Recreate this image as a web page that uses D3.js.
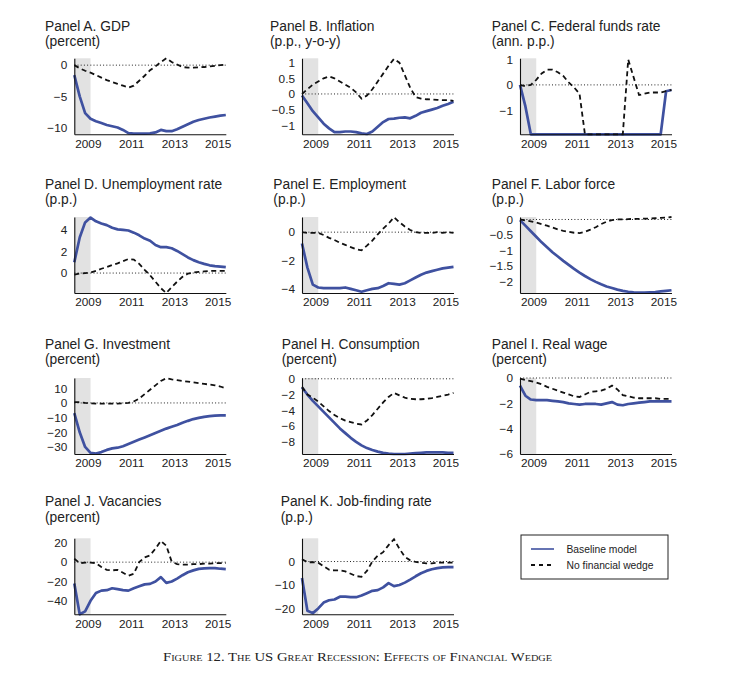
<!DOCTYPE html>
<html><head><meta charset="utf-8">
<script src="https://cdn.jsdelivr.net/npm/d3@7"></script>
<style>body{margin:0;background:#fff}svg{display:block}</style>
</head><body>
<svg id="chart" width="753" height="677"></svg>
<script>
// ---------- data ----------
const quarters = [2008.375,2008.625,2008.875,2009.125,2009.375,2009.625,2009.875,2010.125,2010.375,2010.625,
  2010.875,2011.125,2011.375,2011.625,2011.875,2012.125,2012.375,2012.625,2012.875,2013.125,
  2013.375,2013.625,2013.875,2014.125,2014.375,2014.625,2014.875,2015.125,2015.375];
const xTickYears = [2009, 2011, 2013, 2015];
const recession = [2008.375, 2009.125];
const legendLabels = ["Baseline model", "No financial wedge"];
const caption = "Figure 12. The US Great Recession: Effects of Financial Wedge";

const panelTitles = ["Panel A. GDP","Panel B. Inflation","Panel C. Federal funds rate",
  "Panel D. Unemployment rate","Panel E. Employment","Panel F. Labor force",
  "Panel G. Investment","Panel H. Consumption","Panel I. Real wage",
  "Panel J. Vacancies","Panel K. Job-finding rate"];
const panelUnits = ["(percent)","(p.p., y-o-y)","(ann. p.p.)","(p.p.)","(p.p.)","(p.p.)",
  "(percent)","(percent)","(percent)","(percent)","(p.p.)"];

const yTicksA = [0,-5,-10];
const yTicksB = [1,0.5,0,-0.5,-1];
const yTicksC = [1,0,-1];
const yTicksD = [4,2,0];
const yTicksE = [0,-2,-4];
const yTicksF = [0,-0.5,-1,-1.5,-2];
const yTicksG = [10,0,-10,-20,-30];
const yTicksH = [0,-2,-4,-6,-8];
const yTicksI = [0,-2,-4,-6];
const yTicksJ = [20,0,-20,-40];
const yTicksK = [0,-10,-20];

const yRangeA = [-11.1, 1.1];
const yRangeB = [-1.29, 1.14];
const yRangeC = [-1.95, 1.05];
const yRangeD = [-1.85, 5.2];
const yRangeE = [-4.29, 1.07];
const yRangeF = [-2.38, 0.08];
const yRangeG = [-34.8, 17];
const yRangeH = [-9.55, 0.1];
const yRangeI = [-6, 0];
const yRangeJ = [-54, 24.7];
const yRangeK = [-22.5, 9.9];

const gdpBase = [-1.6,-5.0,-7.7,-8.6,-9.0,-9.3,-9.6,-9.8,-10.0,-10.4,-10.9,-11.0,-11.0,-11.0,-10.95,-10.8,-10.4,-10.6,-10.6,-10.3,-9.9,-9.5,-9.1,-8.8,-8.6,-8.4,-8.25,-8.1,-8.0];
const gdpNoWedge = [0.0,-0.5,-0.9,-1.2,-1.6,-2.0,-2.4,-2.7,-3.0,-3.3,-3.6,-3.3,-2.5,-1.7,-0.8,-0.2,0.5,1.1,0.5,0.1,-0.3,-0.4,-0.4,-0.35,-0.3,-0.2,-0.1,0.0,0.1];
const inflBase = [-0.05,-0.3,-0.55,-0.75,-0.95,-1.1,-1.22,-1.22,-1.2,-1.2,-1.22,-1.26,-1.28,-1.2,-1.05,-0.9,-0.8,-0.79,-0.76,-0.75,-0.78,-0.7,-0.6,-0.55,-0.5,-0.45,-0.38,-0.32,-0.25];
const inflNoWedge = [0.0,0.15,0.3,0.4,0.5,0.56,0.5,0.4,0.3,0.2,0.05,-0.15,-0.05,0.15,0.4,0.65,0.9,1.12,1.0,0.6,0.2,-0.1,-0.15,-0.17,-0.18,-0.19,-0.2,-0.2,-0.22];
const ffrBase = [0.0,-0.85,-1.95,-1.95,-1.95,-1.95,-1.95,-1.95,-1.95,-1.95,-1.95,-1.95,-1.95,-1.95,-1.95,-1.95,-1.95,-1.95,-1.95,-1.95,-1.95,-1.95,-1.95,-1.95,-1.95,-1.95,-1.95,-0.25,-0.2];
const ffrNoWedge = [0.0,-0.05,0.0,0.2,0.45,0.6,0.6,0.5,0.35,0.1,-0.1,-0.35,-1.95,-1.95,-1.95,-1.95,-1.95,-1.95,-1.95,-1.95,1.0,0.3,-0.4,-0.35,-0.3,-0.3,-0.3,-0.25,-0.2];
const unempBase = [1.0,3.3,4.7,5.15,4.8,4.6,4.45,4.2,4.05,4.0,3.95,3.75,3.5,3.2,3.0,2.6,2.4,2.4,2.3,2.05,1.75,1.45,1.2,1.0,0.85,0.72,0.65,0.6,0.55];
const unempNoWedge = [-0.15,-0.05,0.0,0.05,0.2,0.4,0.55,0.75,0.9,1.1,1.3,1.25,0.85,0.3,-0.2,-0.8,-1.4,-1.85,-1.3,-0.8,-0.35,-0.05,0.05,0.1,0.15,0.2,0.2,0.2,0.2];
const emplBase = [-0.8,-2.5,-3.7,-3.9,-3.95,-3.95,-3.95,-3.95,-3.9,-4.0,-4.1,-4.2,-4.1,-4.0,-3.95,-3.8,-3.6,-3.65,-3.7,-3.6,-3.4,-3.2,-3.0,-2.85,-2.75,-2.65,-2.55,-2.5,-2.45];
const emplNoWedge = [0.0,-0.05,-0.05,-0.05,-0.2,-0.4,-0.55,-0.75,-0.9,-1.05,-1.2,-1.28,-0.95,-0.6,-0.15,0.25,0.6,1.05,0.7,0.4,0.15,0.0,-0.05,-0.05,-0.05,0.0,-0.05,0.0,-0.05];
const lforceBase = [-0.02,-0.2,-0.38,-0.56,-0.74,-0.9,-1.06,-1.2,-1.34,-1.47,-1.6,-1.72,-1.83,-1.93,-2.02,-2.1,-2.17,-2.22,-2.27,-2.31,-2.34,-2.36,-2.37,-2.37,-2.36,-2.35,-2.33,-2.31,-2.29];
const lforceNoWedge = [0.0,-0.03,-0.06,-0.1,-0.15,-0.2,-0.26,-0.32,-0.37,-0.4,-0.43,-0.44,-0.4,-0.33,-0.25,-0.15,-0.07,-0.02,0.0,0.0,0.01,0.02,0.02,0.03,0.03,0.04,0.05,0.06,0.08];
const invBase = [-7,-20,-30,-34,-34.5,-33.5,-32,-31,-30.5,-29.5,-28,-26.5,-25,-23.5,-22,-20.5,-19,-17.5,-16.2,-15,-13.5,-12.2,-11,-10.2,-9.5,-9.0,-8.7,-8.5,-8.5];
const invNoWedge = [0.5,0.5,0,-0.2,-0.4,-0.5,-0.5,-0.5,-0.4,-0.2,0,1,3,6,9,12,15,16.8,16,15.5,15,14.5,14,13.5,13,12.5,12,11.2,10];
const consBase = [-1.1,-2.0,-2.8,-3.5,-4.2,-4.9,-5.6,-6.3,-6.9,-7.5,-8.0,-8.45,-8.8,-9.05,-9.25,-9.4,-9.5,-9.55,-9.55,-9.55,-9.5,-9.45,-9.4,-9.35,-9.35,-9.35,-9.35,-9.4,-9.4];
const consNoWedge = [-1.0,-2.0,-2.4,-2.9,-3.5,-4.1,-4.6,-5.0,-5.3,-5.5,-5.7,-5.8,-5.3,-4.6,-3.8,-3.0,-2.3,-1.8,-2.1,-2.4,-2.55,-2.6,-2.6,-2.55,-2.45,-2.3,-2.15,-2.0,-1.8];
const wageBase = [-0.6,-1.4,-1.7,-1.75,-1.75,-1.75,-1.8,-1.85,-1.9,-2.0,-2.05,-2.1,-2.05,-2.05,-2.05,-2.1,-2.0,-1.9,-2.1,-2.15,-2.05,-2.0,-1.95,-1.9,-1.85,-1.85,-1.85,-1.85,-1.85];
const wageNoWedge = [-0.05,-0.15,-0.25,-0.35,-0.5,-0.7,-0.85,-1.0,-1.15,-1.3,-1.45,-1.5,-1.3,-1.1,-1.05,-1.0,-0.85,-0.6,-0.9,-1.35,-1.45,-1.55,-1.6,-1.6,-1.6,-1.6,-1.65,-1.65,-1.65];
const vacBase = [-22,-54,-51,-40,-32,-29.5,-29,-27,-28,-29,-29.5,-27,-25,-23,-22.5,-20,-15.5,-21.5,-20,-17,-13.5,-10.5,-8.5,-7,-6.5,-6.2,-6.2,-6.8,-7.2];
const vacNoWedge = [3.5,-1,-0.5,-0.5,-1,-5,-8,-8.5,-8,-11,-14,-12,0,5,7,14,22,17,0.5,-2,-2.5,-2.5,-2,-2,-1.5,-1.5,-1,-1,-1];
const jfrBase = [-7,-21,-22,-20,-17.5,-16.5,-16.2,-15,-15,-15.2,-15.2,-14.5,-13.5,-12.5,-12.2,-11,-9.2,-10.5,-10,-9,-7.7,-6.3,-5,-4,-3.3,-2.8,-2.5,-2.4,-2.4];
const jfrNoWedge = [1,-0.3,-0.3,-0.5,-2,-3.5,-3.8,-3.8,-4.2,-5.2,-6.2,-6.5,-4,0,2.5,4,7,9.5,5.5,2,0.5,-0.2,-0.5,-0.8,-0.8,-0.5,-0.5,-0.5,-0.5];

// ---------- layout ----------
const colLeft = [74.3, 302, 520];
const titleX = [[45,270,491.7],[45,273.3,491.7],[45,281.7,491.7],[45,280.7]];
const rowTop = [58.3, 217, 378, 538.3];
const rowTitleY = [30.5, 188.5, 348.5, 506];
const plotW = 151.5, plotH = 76;

const series = [
  [gdpBase,gdpNoWedge,yTicksA,yRangeA],[inflBase,inflNoWedge,yTicksB,yRangeB],[ffrBase,ffrNoWedge,yTicksC,yRangeC],
  [unempBase,unempNoWedge,yTicksD,yRangeD],[emplBase,emplNoWedge,yTicksE,yRangeE],[lforceBase,lforceNoWedge,yTicksF,yRangeF],
  [invBase,invNoWedge,yTicksG,yRangeG],[consBase,consNoWedge,yTicksH,yRangeH],[wageBase,wageNoWedge,yTicksI,yRangeI],
  [vacBase,vacNoWedge,yTicksJ,yRangeJ],[jfrBase,jfrNoWedge,yTicksK,yRangeK]
];

const BLUE = "#3f51a0";
const FONT = "'Liberation Sans', Arial, Helvetica, sans-serif";
const svg = d3.select("#chart");
const fmt = v => (v < 0 ? "\u2212" : "") + String(Math.abs(v));

series.forEach((s, k) => {
  const row = Math.floor(k / 3), col = k % 3;
  const left = colLeft[col], top = rowTop[row];
  const x = d3.scaleLinear().domain([quarters[0], quarters[quarters.length-1]]).range([0, plotW]);
  const y = d3.scaleLinear().domain(s[3]).range([plotH, 0]);

  // titles
  const t = svg.append("text").attr("x", titleX[row][col]).attr("y", rowTitleY[row])
    .attr("font-family", FONT).attr("font-size", 13.8).attr("fill", "#222");
  t.append("tspan").text(panelTitles[k]);
  t.append("tspan").attr("x", titleX[row][col]).attr("dy", 15.5).text(panelUnits[k]);

  const g = svg.append("g").attr("transform", `translate(${left},${top})`);
  // recession shade
  g.append("rect").attr("x", x(recession[0])).attr("width", x(recession[1]) - x(recession[0]))
    .attr("y", 0).attr("height", plotH).attr("fill", "#e2e2e2");
  // zero line
  g.append("line").attr("x1", 0).attr("x2", plotW).attr("y1", y(0)).attr("y2", y(0))
    .attr("stroke", "#222").attr("stroke-width", 1).attr("stroke-dasharray", "1,2.2");
  const line = d3.line().x((d, i) => x(quarters[i])).y(d => y(d));
  g.append("path").datum(s[0]).attr("d", line).attr("fill", "none")
    .attr("stroke", BLUE).attr("stroke-width", 2.7).attr("stroke-linejoin", "round");
  g.append("path").datum(s[1]).attr("d", line).attr("fill", "none")
    .attr("stroke", "#111").attr("stroke-width", 1.8).attr("stroke-dasharray", "5,3.5");

  // axes
  const ay = g.append("g").call(d3.axisLeft(y).tickValues(s[2]).tickSize(0).tickPadding(7).tickFormat(fmt));
  const ax = g.append("g").attr("transform", `translate(0,${plotH})`)
    .call(d3.axisBottom(x).tickValues(xTickYears).tickSize(0).tickPadding(5).tickFormat(d3.format("d")));
  [ay, ax].forEach(a => {
    a.select(".domain").attr("stroke", "#111").attr("stroke-width", 1.1);
    a.selectAll("text").attr("font-family", FONT).attr("font-size", 11.8).attr("fill", "#222");
  });
});

// legend
const lg = svg.append("g").attr("transform", "translate(521,535)");
lg.append("rect").attr("width", 147).attr("height", 44).attr("fill", "#fff").attr("stroke", "#222").attr("stroke-width", 1);
lg.append("line").attr("x1", 10).attr("x2", 33).attr("y1", 14).attr("y2", 14).attr("stroke", BLUE).attr("stroke-width", 1.6);
lg.append("line").attr("x1", 10).attr("x2", 33).attr("y1", 30).attr("y2", 30).attr("stroke", "#111").attr("stroke-width", 1.8).attr("stroke-dasharray", "4,4");
legendLabels.forEach((l, i) => lg.append("text").attr("x", 45.5).attr("y", 17.5 + 16 * i)
  .attr("font-family", FONT).attr("font-size", 10.3).attr("fill", "#222").text(l));

// caption
svg.append("text").attr("x", 163).attr("y", 661).attr("textLength", 389).attr("lengthAdjust", "spacingAndGlyphs")
  .attr("font-family", "'Liberation Serif', 'Times New Roman', serif").attr("font-size", 11.5)
  .attr("font-variant", "small-caps").attr("fill", "#222").text(caption);
</script>
</body></html>
